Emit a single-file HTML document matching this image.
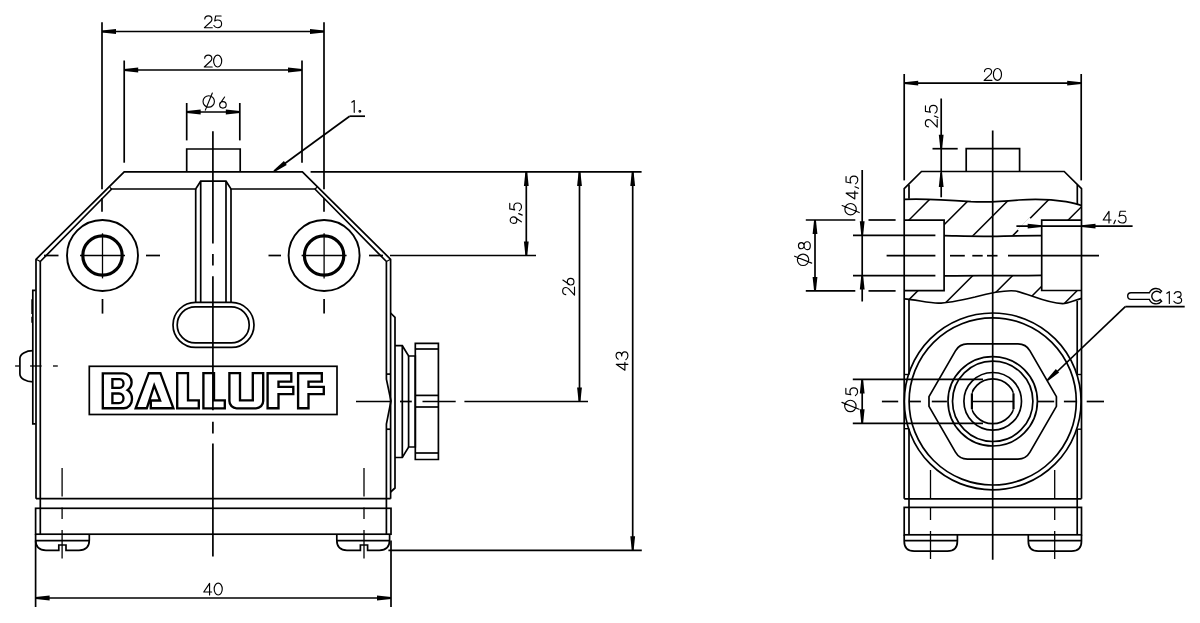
<!DOCTYPE html>
<html><head><meta charset="utf-8"><style>
html,body{margin:0;padding:0;background:#fff;overflow:hidden;}
svg{display:block;}
</style></head><body>
<svg width="1200" height="623" viewBox="0 0 1200 623" fill="none" stroke="#000">
<line x1="102" y1="22.2" x2="102" y2="189.2" stroke-width="1.7"/>
<line x1="102" y1="197.9" x2="102" y2="211.8" stroke-width="1.7"/>
<line x1="324" y1="22.2" x2="324" y2="189.2" stroke-width="1.7"/>
<line x1="324" y1="197.9" x2="324" y2="211.8" stroke-width="1.7"/>
<line x1="102" y1="31.5" x2="324" y2="31.5" stroke-width="1.7"/>
<path d="M102,30.6 L116,29.1 L116,33.9 L102,32.4 Z" fill="#000" stroke="none"/>
<path d="M324,32.4 L310,33.9 L310,29.1 L324,30.6 Z" fill="#000" stroke="none"/>
<g transform="translate(204.4,15.86) scale(0.94)" stroke-width="1.22" stroke-linecap="round" stroke-linejoin="round"><path transform="translate(0,0)" d="M0.4,3.3 C0.5,1.3 2.2,0 4.2,0 C6.4,0 8.0,1.5 8.0,3.5 C8.0,4.7 7.4,5.6 6.5,6.5 L0,12.6 H8.4"/><path transform="translate(9.9,0)" d="M7.9,0.1 H2.1 L1.1,5.4 C1.9,4.8 3.0,4.4 4.2,4.4 C6.6,4.4 8.4,6.2 8.4,8.5 C8.4,10.8 6.6,12.6 4.2,12.6 C2.5,12.6 1.0,11.7 0.2,10.3"/></g>
<line x1="124.2" y1="60.5" x2="124.2" y2="162.7" stroke-width="1.7"/>
<line x1="302" y1="60.5" x2="302" y2="162.7" stroke-width="1.7"/>
<line x1="124.2" y1="70" x2="302" y2="70" stroke-width="1.7"/>
<path d="M124.2,69.1 L138.2,67.6 L138.2,72.4 L124.2,70.9 Z" fill="#000" stroke="none"/>
<path d="M302,70.9 L288,72.4 L288,67.6 L302,69.1 Z" fill="#000" stroke="none"/>
<g transform="translate(204.31,55.16) scale(0.94)" stroke-width="1.22" stroke-linecap="round" stroke-linejoin="round"><path transform="translate(0,0)" d="M0.4,3.3 C0.5,1.3 2.2,0 4.2,0 C6.4,0 8.0,1.5 8.0,3.5 C8.0,4.7 7.4,5.6 6.5,6.5 L0,12.6 H8.4"/><path transform="translate(9.9,0)" d="M4.3,0 C6.7,0 8.6,2.8 8.6,6.3 C8.6,9.8 6.7,12.6 4.3,12.6 C1.9,12.6 0,9.8 0,6.3 C0,2.8 1.9,0 4.3,0 Z"/></g>
<line x1="186.7" y1="103" x2="186.7" y2="140.4" stroke-width="1.7"/>
<line x1="239.8" y1="103" x2="239.8" y2="140.4" stroke-width="1.7"/>
<line x1="186.7" y1="112" x2="239.8" y2="112" stroke-width="1.7"/>
<path d="M186.7,111.1 L200.7,109.6 L200.7,114.4 L186.7,112.9 Z" fill="#000" stroke="none"/>
<path d="M239.8,112.9 L225.8,114.4 L225.8,109.6 L239.8,111.1 Z" fill="#000" stroke="none"/>
<g transform="translate(202.8,96.86) scale(0.94)" stroke-width="1.22" stroke-linecap="round" stroke-linejoin="round"><path transform="translate(0,0)" d="M0.24,4.9 A6.06,6.06 0 1 0 12.36,4.9 A6.06,6.06 0 1 0 0.24,4.9 M10.13,-4.1 L2.7,14.1"/><path transform="translate(17.1,0)" d="M6.1,0.2 L1.25,7.2 M0.8,8.5 A3.5,3.5 0 1 0 7.8,8.5 A3.5,3.5 0 1 0 0.8,8.5"/></g>
<g transform="translate(351.6,100.46) scale(0.94)" stroke-width="1.22" stroke-linecap="round" stroke-linejoin="round"><path transform="translate(0,0)" d="M0.2,1.9 L2.8,0.1 V12.6"/><path transform="translate(7.5,0)" d="M1.3,11.6 m-0.9,0 a0.9,0.9 0 1 0 1.8,0 a0.9,0.9 0 1 0 -1.8,0"/></g>
<line x1="349.6" y1="116.2" x2="365" y2="116.2" stroke-width="1.7"/>
<line x1="349.6" y1="116.2" x2="278" y2="168.5" stroke-width="1.7"/>
<path d="M273.47,170.57 L283.9,161.11 L286.73,164.99 L274.53,172.03 Z" fill="#000" stroke="none"/>
<path d="M186.7,171.9 V149 H240.2 V171.9" stroke-width="1.7"/>
<path d="M36,498.7 V259.3 L124.2,171.9 H302.4 L390.6,259.3 V498.7" stroke-width="1.7"/>
<path d="M40.3,534 V261.5 L111.7,189 H195.7 L200.7,181.2 H226 L231,189 H314.9 L386.4,261.5 V379.2 L391,401 L386.4,424.1 V534" stroke-width="1.7"/>
<line x1="386.4" y1="374.1" x2="390.6" y2="374.1" stroke-width="1.7"/>
<line x1="386.4" y1="429.2" x2="390.6" y2="429.2" stroke-width="1.7"/>
<line x1="36" y1="259.3" x2="40.3" y2="261.5" stroke-width="1.2"/>
<line x1="390.6" y1="259.3" x2="386.4" y2="261.5" stroke-width="1.2"/>
<line x1="109.7" y1="187.3" x2="111.7" y2="189.2" stroke-width="1.2"/>
<line x1="316.9" y1="187.3" x2="314.9" y2="189.2" stroke-width="1.2"/>
<line x1="310.6" y1="171.9" x2="641.6" y2="171.9" stroke-width="1.7"/>
<line x1="195.7" y1="189" x2="195.7" y2="302.6" stroke-width="1.7"/>
<line x1="200.7" y1="181.2" x2="200.7" y2="302.6" stroke-width="1.7"/>
<line x1="226" y1="181.2" x2="226" y2="302.6" stroke-width="1.7"/>
<line x1="231" y1="189" x2="231" y2="302.6" stroke-width="1.7"/>
<rect x="173" y="302.4" width="81" height="45" rx="22.5" stroke-width="1.7"/>
<rect x="177.2" y="306.9" width="72" height="36" rx="18" stroke-width="1.7"/>
<circle cx="102.5" cy="255.5" r="35.5" stroke-width="1.9"/>
<circle cx="102.5" cy="255.5" r="19.7" stroke-width="3.2"/>
<line x1="80" y1="255.5" x2="125" y2="255.5" stroke-width="1.3"/>
<line x1="102.5" y1="233.3" x2="102.5" y2="278.4" stroke-width="1.3"/>
<line x1="102.5" y1="299" x2="102.5" y2="313.6" stroke-width="1.7"/>
<circle cx="324.1" cy="255.5" r="35.5" stroke-width="1.9"/>
<circle cx="324.1" cy="255.5" r="19.7" stroke-width="3.2"/>
<line x1="301.6" y1="255.5" x2="346.6" y2="255.5" stroke-width="1.3"/>
<line x1="324.1" y1="233.3" x2="324.1" y2="278.4" stroke-width="1.3"/>
<line x1="324.1" y1="299" x2="324.1" y2="313.6" stroke-width="1.7"/>
<line x1="44" y1="255.5" x2="58.5" y2="255.5" stroke-width="1.7"/>
<line x1="146" y1="255.5" x2="160" y2="255.5" stroke-width="1.7"/>
<line x1="268.5" y1="255.5" x2="281" y2="255.5" stroke-width="1.7"/>
<line x1="369" y1="255.5" x2="383" y2="255.5" stroke-width="1.7"/>
<line x1="390" y1="255.5" x2="536" y2="255.5" stroke-width="1.7"/>
<line x1="212.9" y1="131.3" x2="212.9" y2="243.5" stroke-width="1.7"/>
<line x1="212.9" y1="254.1" x2="212.9" y2="265.6" stroke-width="1.7"/>
<line x1="212.9" y1="276.2" x2="212.9" y2="410.3" stroke-width="1.7"/>
<line x1="212.9" y1="421.8" x2="212.9" y2="433.4" stroke-width="1.7"/>
<line x1="212.9" y1="443.6" x2="212.9" y2="556.6" stroke-width="1.7"/>
<rect x="89.3" y="366.3" width="247.7" height="48.2" stroke-width="1.7"/>
<path d="M102.8,373.3 H123.1 C128,373.3 131.6,377.5 131.6,382.3 C131.6,385.5 130,388.3 127.5,390.1 C130.5,392 132,395 132,399 C132,404.3 128.3,408.2 123.8,408.2 H102.8 Z" stroke-width="2.35" stroke-linejoin="miter"/>
<path d="M112.4,379.1 H119.7 C121.8,379.1 123.5,381.1 123.5,383.5 C123.5,385.9 121.8,387.9 119.7,387.9 H112.4 Z" stroke-width="2.35" stroke-linejoin="miter"/>
<path d="M112.4,393.5 H119 C121.5,393.5 123.5,395.6 123.5,398.3 C123.5,401 121.5,403.1 119,403.1 H112.4 Z" stroke-width="2.35" stroke-linejoin="miter"/>
<path d="M135.7,408.25 L148.8,373.2 H160.4 L173.4,408.25 H150.8 V400.5 H160.1 L154.2,385.4 L146.8,408.25 Z" stroke-width="2.35" stroke-linejoin="miter"/>
<path d="M177.2,373.1 H188 V400.4 H198.8 V408.3 H177.2 Z" stroke-width="2.35" stroke-linejoin="miter"/>
<path d="M203.4,373.1 H214 V400.4 H224.8 V408.3 H203.4 Z" stroke-width="2.35" stroke-linejoin="miter"/>
<path d="M229.4,373.1 H240 V400.4 H252.8 V373.1 H263.2 V401.1 A7.2,7.2 0 0 1 256,408.3 H236.6 A7.2,7.2 0 0 1 229.4,401.1 Z" stroke-width="2.35" stroke-linejoin="miter"/>
<path d="M267.6,373.2 H291.3 V381.6 H278.5 V386.9 H293.3 V394.1 H278.5 V408.2 H267.6 Z" stroke-width="2.35" stroke-linejoin="miter"/>
<path d="M298.1,373.2 H321.8 V381.6 H308.5 V386.9 H323.8 V394.1 H308.5 V408.2 H298.1 Z" stroke-width="2.35" stroke-linejoin="miter"/>
<path d="M35.65,290.3 H32.8 V423.8 H35.65" stroke-width="1.7"/>
<path d="M31.3,299.3 H33 V314 H31.3 Z M31.3,316.7 H33 V322.7 H31.3 Z" fill="#000" stroke="none"/>
<path d="M33,350.6 A13.1,7.9 0 0 0 19.9,358.5 V374 A13.1,7.9 0 0 0 33,381.9" stroke-width="1.7"/>
<line x1="15.1" y1="366" x2="19.1" y2="366" stroke-width="1.3"/>
<line x1="30.1" y1="366" x2="41.6" y2="366" stroke-width="1.3"/>
<line x1="53" y1="366" x2="57.8" y2="366" stroke-width="1.3"/>
<path d="M390.6,313 L395,317.3 V488 L390.6,492" stroke-width="1.7"/>
<path d="M395,345.7 H402.3 L408.6,356 H415.3 V447 H408.6 L402.3,457.5 H395" stroke-width="1.7"/>
<line x1="402.3" y1="345.7" x2="402.3" y2="457.5" stroke-width="1.7"/>
<line x1="408.6" y1="356" x2="408.6" y2="447" stroke-width="1.7"/>
<path d="M415.3,343.4 H438.4 V459.5 H415.3 Z" stroke-width="1.7"/>
<line x1="415.3" y1="349" x2="438.4" y2="349" stroke-width="1.7"/>
<line x1="415.3" y1="395.4" x2="438.4" y2="395.4" stroke-width="1.7"/>
<line x1="415.3" y1="407" x2="438.4" y2="407" stroke-width="1.7"/>
<line x1="415.3" y1="453" x2="438.4" y2="453" stroke-width="1.7"/>
<line x1="356" y1="401.5" x2="391" y2="401.5" stroke-width="1.7"/>
<line x1="400" y1="401.5" x2="411.8" y2="401.5" stroke-width="1.7"/>
<line x1="422.5" y1="401.5" x2="455.7" y2="401.5" stroke-width="1.7"/>
<line x1="464.4" y1="401.5" x2="588" y2="401.5" stroke-width="1.7"/>
<line x1="36" y1="498.7" x2="390.6" y2="498.7" stroke-width="1.7"/>
<rect x="35.6" y="508.3" width="355.4" height="25.9" stroke-width="1.7"/>
<path d="M35.6,534.2 V540 Q35.6,550.3 46,550.3 H58.8 V545 H66 V550.3 H79 Q89.3,550.3 89.3,540 V534.2" stroke-width="1.7"/>
<path d="M336.8,534.2 V540 Q336.8,550.3 347,550.3 H360.4 V545 H367.6 V550.3 H379.4 Q389.6,550.3 389.6,540 V534.2" stroke-width="1.7"/>
<line x1="62.1" y1="468" x2="62.1" y2="496.6" stroke-width="1.3"/>
<line x1="62.1" y1="507.5" x2="62.1" y2="519" stroke-width="1.3"/>
<line x1="62.1" y1="530" x2="62.1" y2="558.5" stroke-width="1.3"/>
<line x1="364" y1="468" x2="364" y2="496.6" stroke-width="1.3"/>
<line x1="364" y1="507.5" x2="364" y2="519" stroke-width="1.3"/>
<line x1="364" y1="530" x2="364" y2="558.5" stroke-width="1.3"/>
<line x1="35.6" y1="540.7" x2="89.3" y2="540.7" stroke-width="1.7"/>
<line x1="336.8" y1="540.7" x2="389.6" y2="540.7" stroke-width="1.7"/>
<line x1="526.3" y1="171.9" x2="526.3" y2="255.5" stroke-width="1.7"/>
<path d="M527.2,171.9 L528.7,185.9 L523.9,185.9 L525.4,171.9 Z" fill="#000" stroke="none"/>
<path d="M525.4,255.5 L523.9,241.5 L528.7,241.5 L527.2,255.5 Z" fill="#000" stroke="none"/>
<g transform="translate(509.66,223.42) rotate(-90) scale(0.94)" stroke-width="1.22" stroke-linecap="round" stroke-linejoin="round"><path transform="translate(0,0)" d="M1.7,12.4 L6.55,5.4 M7.0,4.1 A3.5,3.5 0 1 0 0,4.1 A3.5,3.5 0 1 0 7.0,4.1"/><path transform="translate(8.5,0)" d="M1.9,9.6 L0.3,13.4"/><path transform="translate(13.35,0)" d="M7.9,0.1 H2.1 L1.1,5.4 C1.9,4.8 3.0,4.4 4.2,4.4 C6.6,4.4 8.4,6.2 8.4,8.5 C8.4,10.8 6.6,12.6 4.2,12.6 C2.5,12.6 1.0,11.7 0.2,10.3"/></g>
<line x1="579.5" y1="171.9" x2="579.5" y2="401.5" stroke-width="1.7"/>
<path d="M580.4,171.9 L581.9,185.9 L577.1,185.9 L578.6,171.9 Z" fill="#000" stroke="none"/>
<path d="M578.6,401.5 L577.1,387.5 L581.9,387.5 L580.4,401.5 Z" fill="#000" stroke="none"/>
<g transform="translate(562.66,295.02) rotate(-90) scale(0.94)" stroke-width="1.22" stroke-linecap="round" stroke-linejoin="round"><path transform="translate(0,0)" d="M0.4,3.3 C0.5,1.3 2.2,0 4.2,0 C6.4,0 8.0,1.5 8.0,3.5 C8.0,4.7 7.4,5.6 6.5,6.5 L0,12.6 H8.4"/><path transform="translate(9.9,0)" d="M6.1,0.2 L1.25,7.2 M0.8,8.5 A3.5,3.5 0 1 0 7.8,8.5 A3.5,3.5 0 1 0 0.8,8.5"/></g>
<line x1="632.7" y1="171.9" x2="632.7" y2="550.3" stroke-width="1.7"/>
<path d="M633.6,171.9 L635.1,185.9 L630.3,185.9 L631.8,171.9 Z" fill="#000" stroke="none"/>
<path d="M631.8,550.3 L630.3,536.3 L635.1,536.3 L633.6,550.3 Z" fill="#000" stroke="none"/>
<g transform="translate(616.06,370.17) rotate(-90) scale(0.94)" stroke-width="1.22" stroke-linecap="round" stroke-linejoin="round"><path transform="translate(0,0)" d="M6.2,12.6 V0.2 L0,9.4 H8.4"/><path transform="translate(11.1,0)" d="M0.5,2.3 C1.2,0.9 2.6,0 4.2,0 C6.2,0 7.8,1.3 7.8,3.1 C7.8,4.8 6.3,6.0 4.0,6.0 C6.6,6.0 8.4,7.5 8.4,9.3 C8.4,11.2 6.6,12.6 4.2,12.6 C2.4,12.6 0.9,11.8 0.1,10.4"/></g>
<line x1="388.4" y1="550.3" x2="641.8" y2="550.3" stroke-width="1.7"/>
<line x1="35.6" y1="540.5" x2="35.6" y2="607" stroke-width="1.7"/>
<line x1="391" y1="540.5" x2="391" y2="607" stroke-width="1.7"/>
<line x1="35.6" y1="598" x2="391" y2="598" stroke-width="1.7"/>
<path d="M35.6,597.1 L49.6,595.6 L49.6,600.4 L35.6,598.9 Z" fill="#000" stroke="none"/>
<path d="M391,598.9 L377,600.4 L377,595.6 L391,597.1 Z" fill="#000" stroke="none"/>
<g transform="translate(203.74,583.16) scale(0.94)" stroke-width="1.22" stroke-linecap="round" stroke-linejoin="round"><path transform="translate(0,0)" d="M6.2,12.6 V0.2 L0,9.4 H8.4"/><path transform="translate(11.1,0)" d="M4.3,0 C6.7,0 8.6,2.8 8.6,6.3 C8.6,9.8 6.7,12.6 4.3,12.6 C1.9,12.6 0,9.8 0,6.3 C0,2.8 1.9,0 4.3,0 Z"/></g>
<line x1="904.2" y1="74" x2="904.2" y2="180.4" stroke-width="1.7"/>
<line x1="1081.2" y1="74" x2="1081.2" y2="180.4" stroke-width="1.7"/>
<line x1="904.2" y1="83.1" x2="1081.2" y2="83.1" stroke-width="1.7"/>
<path d="M904.2,82.2 L918.2,80.7 L918.2,85.5 L904.2,84 Z" fill="#000" stroke="none"/>
<path d="M1081.2,84 L1067.2,85.5 L1067.2,80.7 L1081.2,82.2 Z" fill="#000" stroke="none"/>
<g transform="translate(984.1,68.46) scale(0.94)" stroke-width="1.22" stroke-linecap="round" stroke-linejoin="round"><path transform="translate(0,0)" d="M0.4,3.3 C0.5,1.3 2.2,0 4.2,0 C6.4,0 8.0,1.5 8.0,3.5 C8.0,4.7 7.4,5.6 6.5,6.5 L0,12.6 H8.4"/><path transform="translate(9.9,0)" d="M4.3,0 C6.7,0 8.6,2.8 8.6,6.3 C8.6,9.8 6.7,12.6 4.3,12.6 C1.9,12.6 0,9.8 0,6.3 C0,2.8 1.9,0 4.3,0 Z"/></g>
<line x1="941.2" y1="98.5" x2="941.2" y2="197.3" stroke-width="1.7"/>
<path d="M940.3,148.7 L938.8,134.7 L943.6,134.7 L942.1,148.7 Z" fill="#000" stroke="none"/>
<path d="M942.1,173 L943.6,187 L938.8,187 L940.3,173 Z" fill="#000" stroke="none"/>
<line x1="932.5" y1="148.7" x2="957.7" y2="148.7" stroke-width="1.7"/>
<g transform="translate(925.36,127.18) rotate(-90) scale(0.94)" stroke-width="1.22" stroke-linecap="round" stroke-linejoin="round"><path transform="translate(0,0)" d="M0.4,3.3 C0.5,1.3 2.2,0 4.2,0 C6.4,0 8.0,1.5 8.0,3.5 C8.0,4.7 7.4,5.6 6.5,6.5 L0,12.6 H8.4"/><path transform="translate(9.9,0)" d="M1.9,9.6 L0.3,13.4"/><path transform="translate(14.75,0)" d="M7.9,0.1 H2.1 L1.1,5.4 C1.9,4.8 3.0,4.4 4.2,4.4 C6.6,4.4 8.4,6.2 8.4,8.5 C8.4,10.8 6.6,12.6 4.2,12.6 C2.5,12.6 1.0,11.7 0.2,10.3"/></g>
<path d="M966.2,171.5 V148.7 H1019.6 V171.5" stroke-width="1.7"/>
<line x1="992.7" y1="130.6" x2="992.7" y2="559.8" stroke-width="1.7"/>
<path d="M904.2,498.8 V188.6 L921.5,171.5 H1064.2 L1081.5,188.6 V498.8" stroke-width="1.7"/>
<line x1="909" y1="184.7" x2="909" y2="198.7" stroke-width="1.7"/>
<line x1="1077.3" y1="184.7" x2="1077.3" y2="204" stroke-width="1.7"/>
<line x1="909" y1="299.4" x2="909" y2="374.5" stroke-width="1.7"/>
<line x1="909" y1="428.7" x2="909" y2="534.5" stroke-width="1.7"/>
<line x1="1077.2" y1="301" x2="1077.2" y2="374.5" stroke-width="1.7"/>
<line x1="1077.2" y1="429.2" x2="1077.2" y2="534.5" stroke-width="1.7"/>
<line x1="904.2" y1="374.5" x2="909" y2="374.5" stroke-width="1.4"/>
<line x1="904.2" y1="428.7" x2="909" y2="428.7" stroke-width="1.4"/>
<line x1="1077.2" y1="374.5" x2="1081.5" y2="374.5" stroke-width="1.4"/>
<line x1="1077.2" y1="429.2" x2="1081.5" y2="429.2" stroke-width="1.4"/>
<defs><clipPath id="hc"><path d="M904.2,199.3 C925,198.5 950,200 971,201.6 C985,202.3 1000,201.8 1018.7,200 C1035,198.8 1050,199.2 1066,201.6 C1073,202.8 1078,204 1081.5,205.6 V220.1 H1041.7 V235.7 H944.1 V220.1 H904.2 Z M904.2,290.7 H944.1 V275.8 H1041.7 V290.5 H1081.5 V298.4 C1075,300 1068,303.6 1062.6,303.6 C1045,303 1030,294 1015.6,291 C1005,289.8 990,293 975,297 C960,300.5 945,303.2 938.3,303.2 C928,303 915,299.5 904.2,298.9 Z"/></clipPath></defs>
<g clip-path="url(#hc)" stroke-width="1.5"><line x1="809" y1="320" x2="949" y2="180"/><line x1="848.8" y1="320" x2="988.8" y2="180"/><line x1="888.6" y1="320" x2="1028.6" y2="180"/><line x1="928.4" y1="320" x2="1068.4" y2="180"/><line x1="968.2" y1="320" x2="1108.2" y2="180"/><line x1="1008" y1="320" x2="1148" y2="180"/><line x1="1047.8" y1="320" x2="1187.8" y2="180"/></g>
<line x1="1018.5" y1="230.5" x2="1030.5" y2="218.5" stroke="#fff" stroke-width="3"/>
<path d="M904.2,220.1 H944.1 V290.7 H904.2" stroke-width="1.7"/>
<path d="M1081.5,220.1 H1041.7 V290.5 H1081.5" stroke-width="1.7"/>
<path d="M944.1,235.7 C960,236 975,236.6 992,236.3 C1010,236 1025,235.6 1041.7,235.7" stroke-width="1.7"/>
<path d="M944.1,275.8 C960,275.6 975,275.4 992,275.6 C1010,275.8 1025,275.6 1041.7,275.3" stroke-width="1.7"/>
<path d="M904.2,199.3 C925,198.5 950,200 971,201.6 C985,202.3 1000,201.8 1018.7,200 C1035,198.8 1050,199.2 1066,201.6 C1073,202.8 1078,204 1081.5,205.6" stroke-width="1.7"/>
<path d="M904.2,298.9 C915,299.5 928,303 938.3,303.2 C945,303.2 960,300.5 975,297 C990,293 1005,289.8 1015.6,291 C1030,294 1045,303 1062.6,303.6 C1068,303.6 1075,300 1081.5,298.4" stroke-width="1.7"/>
<line x1="886.6" y1="255.7" x2="935.4" y2="255.7" stroke-width="1.7"/>
<line x1="950" y1="255.7" x2="964.8" y2="255.7" stroke-width="1.7"/>
<line x1="972.3" y1="255.7" x2="982.7" y2="255.7" stroke-width="1.7"/>
<line x1="987" y1="255.7" x2="997.5" y2="255.7" stroke-width="1.7"/>
<line x1="1008" y1="255.7" x2="1099" y2="255.7" stroke-width="1.7"/>
<line x1="853" y1="235.3" x2="935.4" y2="235.3" stroke-width="1.7"/>
<line x1="853" y1="275.6" x2="935.4" y2="275.6" stroke-width="1.7"/>
<line x1="805.8" y1="220" x2="855.3" y2="220" stroke-width="1.7"/>
<line x1="868.5" y1="220" x2="895.6" y2="220" stroke-width="1.7"/>
<line x1="805.8" y1="290.9" x2="855.3" y2="290.9" stroke-width="1.7"/>
<line x1="868.5" y1="290.9" x2="895.6" y2="290.9" stroke-width="1.7"/>
<line x1="815" y1="220" x2="815" y2="290.9" stroke-width="1.7"/>
<path d="M815.9,220 L817.4,234 L812.6,234 L814.1,220 Z" fill="#000" stroke="none"/>
<path d="M814.1,290.9 L812.6,276.9 L817.4,276.9 L815.9,290.9 Z" fill="#000" stroke="none"/>
<g transform="translate(798.46,265.69) rotate(-90) scale(0.94)" stroke-width="1.22" stroke-linecap="round" stroke-linejoin="round"><path transform="translate(0,0)" d="M0.24,4.9 A6.06,6.06 0 1 0 12.36,4.9 A6.06,6.06 0 1 0 0.24,4.9 M10.13,-4.1 L2.7,14.1"/><path transform="translate(17.1,0)" d="M4.2,0 C6.1,0 7.5,1.3 7.5,3.0 C7.5,4.7 6.1,6.0 4.2,6.0 C2.3,6.0 0.9,4.7 0.9,3.0 C0.9,1.3 2.3,0 4.2,0 Z M4.2,6.0 C6.6,6.0 8.4,7.5 8.4,9.3 C8.4,11.1 6.6,12.6 4.2,12.6 C1.8,12.6 0,11.1 0,9.3 C0,7.5 1.8,6.0 4.2,6.0 Z"/></g>
<line x1="862.2" y1="170" x2="862.2" y2="301.5" stroke-width="1.7"/>
<path d="M861.3,235.3 L859.8,221.3 L864.6,221.3 L863.1,235.3 Z" fill="#000" stroke="none"/>
<path d="M863.1,275.6 L864.6,289.6 L859.8,289.6 L861.3,275.6 Z" fill="#000" stroke="none"/>
<g transform="translate(845.96,215.08) rotate(-90) scale(0.94)" stroke-width="1.22" stroke-linecap="round" stroke-linejoin="round"><path transform="translate(0,0)" d="M0.24,4.9 A6.06,6.06 0 1 0 12.36,4.9 A6.06,6.06 0 1 0 0.24,4.9 M10.13,-4.1 L2.7,14.1"/><path transform="translate(17.1,0)" d="M6.2,12.6 V0.2 L0,9.4 H8.4"/><path transform="translate(28.2,0)" d="M1.9,9.6 L0.3,13.4"/><path transform="translate(33.05,0)" d="M7.9,0.1 H2.1 L1.1,5.4 C1.9,4.8 3.0,4.4 4.2,4.4 C6.6,4.4 8.4,6.2 8.4,8.5 C8.4,10.8 6.6,12.6 4.2,12.6 C2.5,12.6 1.0,11.7 0.2,10.3"/></g>
<line x1="1016.4" y1="226.2" x2="1132.6" y2="226.2" stroke-width="1.7"/>
<path d="M1041.7,227.1 L1027.7,228.6 L1027.7,223.8 L1041.7,225.3 Z" fill="#000" stroke="none"/>
<path d="M1081.5,225.3 L1095.5,223.8 L1095.5,228.6 L1081.5,227.1 Z" fill="#000" stroke="none"/>
<g transform="translate(1103.16,211.16) scale(0.94)" stroke-width="1.22" stroke-linecap="round" stroke-linejoin="round"><path transform="translate(0,0)" d="M6.2,12.6 V0.2 L0,9.4 H8.4"/><path transform="translate(11.1,0)" d="M1.9,9.6 L0.3,13.4"/><path transform="translate(15.95,0)" d="M7.9,0.1 H2.1 L1.1,5.4 C1.9,4.8 3.0,4.4 4.2,4.4 C6.6,4.4 8.4,6.2 8.4,8.5 C8.4,10.8 6.6,12.6 4.2,12.6 C2.5,12.6 1.0,11.7 0.2,10.3"/></g>
<circle cx="992.7" cy="401.4" r="88.4" stroke-width="1.7"/>
<circle cx="992.7" cy="401.4" r="83.6" stroke-width="1.7"/>
<circle cx="992.7" cy="401.3" r="44.7" stroke-width="1.7"/>
<circle cx="992.7" cy="401.3" r="40.2" stroke-width="1.7"/>
<circle cx="992.7" cy="401.3" r="28.8" stroke-width="1.7"/>
<clipPath id="fc"><rect x="971.7" y="370" width="42" height="62"/></clipPath>
<circle cx="992.7" cy="401.3" r="22.4" stroke-width="1.7" clip-path="url(#fc)"/>
<line x1="971.9" y1="393.4" x2="971.9" y2="409.2" stroke-width="2.2"/>
<line x1="1013.5" y1="393.4" x2="1013.5" y2="409.2" stroke-width="2.2"/>
<path d="M928.99,396.65 L955.44,350.83 Q959.44,343.9 967.44,343.9 H1017.96 Q1025.96,343.9 1029.96,350.83 L1056.41,396.65 V406.35 L1029.96,452.17 Q1025.96,459.1 1017.96,459.1 H967.44 Q959.44,459.1 955.44,452.17 L928.99,406.35 Z" stroke-width="1.7"/>
<line x1="852.8" y1="379.4" x2="983" y2="379.4" stroke-width="1.7"/>
<line x1="852.8" y1="423.3" x2="983" y2="423.3" stroke-width="1.7"/>
<line x1="862.2" y1="379.4" x2="862.2" y2="423.3" stroke-width="1.7"/>
<path d="M863.1,379.4 L864.6,393.4 L859.8,393.4 L861.3,379.4 Z" fill="#000" stroke="none"/>
<path d="M861.3,423.3 L859.8,409.3 L864.6,409.3 L863.1,423.3 Z" fill="#000" stroke="none"/>
<g transform="translate(845.76,411.88) rotate(-90) scale(0.94)" stroke-width="1.22" stroke-linecap="round" stroke-linejoin="round"><path transform="translate(0,0)" d="M0.24,4.9 A6.06,6.06 0 1 0 12.36,4.9 A6.06,6.06 0 1 0 0.24,4.9 M10.13,-4.1 L2.7,14.1"/><path transform="translate(17.1,0)" d="M7.9,0.1 H2.1 L1.1,5.4 C1.9,4.8 3.0,4.4 4.2,4.4 C6.6,4.4 8.4,6.2 8.4,8.5 C8.4,10.8 6.6,12.6 4.2,12.6 C2.5,12.6 1.0,11.7 0.2,10.3"/></g>
<line x1="881.9" y1="401.5" x2="898.2" y2="401.5" stroke-width="1.7"/>
<line x1="909" y1="401.5" x2="920.9" y2="401.5" stroke-width="1.7"/>
<line x1="931.8" y1="401.5" x2="946.9" y2="401.5" stroke-width="1.7"/>
<line x1="971.8" y1="401.5" x2="1014.1" y2="401.5" stroke-width="1.7"/>
<line x1="1037.9" y1="401.5" x2="1054.2" y2="401.5" stroke-width="1.7"/>
<line x1="1063.9" y1="401.5" x2="1076.9" y2="401.5" stroke-width="1.7"/>
<line x1="1086.7" y1="401.5" x2="1104" y2="401.5" stroke-width="1.7"/>
<line x1="1125.3" y1="306.6" x2="1184.7" y2="306.6" stroke-width="1.7"/>
<line x1="1125.3" y1="306.6" x2="1052" y2="376.5" stroke-width="1.7"/>
<path d="M1046.68,379.65 L1055.83,368.94 L1059.12,372.43 L1047.92,380.95 Z" fill="#000" stroke="none"/>
<g transform="translate(1166.7,291.56) scale(0.94)" stroke-width="1.22" stroke-linecap="round" stroke-linejoin="round"><path transform="translate(0,0)" d="M0.2,1.9 L2.8,0.1 V12.6"/><path transform="translate(7.5,0)" d="M0.5,2.3 C1.2,0.9 2.6,0 4.2,0 C6.2,0 7.8,1.3 7.8,3.1 C7.8,4.8 6.3,6.0 4.0,6.0 C6.6,6.0 8.4,7.5 8.4,9.3 C8.4,11.2 6.6,12.6 4.2,12.6 C2.4,12.6 0.9,11.8 0.1,10.4"/></g>
<path d="M1149.4,292.8 H1131 A3.3,3.3 0 0 0 1131,299.4 H1149.4 A7.2,7.2 0 0 0 1161.6,301.3 L1160.2,299.6 A4.9,4.9 0 1 1 1160.2,292.8 L1161.6,291.1 A7.2,7.2 0 0 0 1149.4,292.8 Z" stroke-width="1.4"/>
<line x1="904.2" y1="498.8" x2="1081.5" y2="498.8" stroke-width="1.7"/>
<rect x="904.2" y="507.4" width="177.3" height="27.4" stroke-width="1.7"/>
<path d="M904.2,534.8 V541 Q904.2,551.2 914.2,551.2 H947.4 Q957.4,551.2 957.4,541 V534.8" stroke-width="1.7"/>
<path d="M1028.3,534.8 V541 Q1028.3,551.2 1038.3,551.2 H1071.5 Q1081.5,551.2 1081.5,541 V534.8" stroke-width="1.7"/>
<line x1="904.2" y1="540.6" x2="957.4" y2="540.6" stroke-width="1.7"/>
<line x1="1028.3" y1="540.6" x2="1081.5" y2="540.6" stroke-width="1.7"/>
<line x1="930.5" y1="470" x2="930.5" y2="498" stroke-width="1.3"/>
<line x1="930.5" y1="508" x2="930.5" y2="520" stroke-width="1.3"/>
<line x1="930.5" y1="531" x2="930.5" y2="559" stroke-width="1.3"/>
<line x1="1054.7" y1="470" x2="1054.7" y2="498" stroke-width="1.3"/>
<line x1="1054.7" y1="508" x2="1054.7" y2="520" stroke-width="1.3"/>
<line x1="1054.7" y1="531" x2="1054.7" y2="559" stroke-width="1.3"/>
</svg></body></html>
